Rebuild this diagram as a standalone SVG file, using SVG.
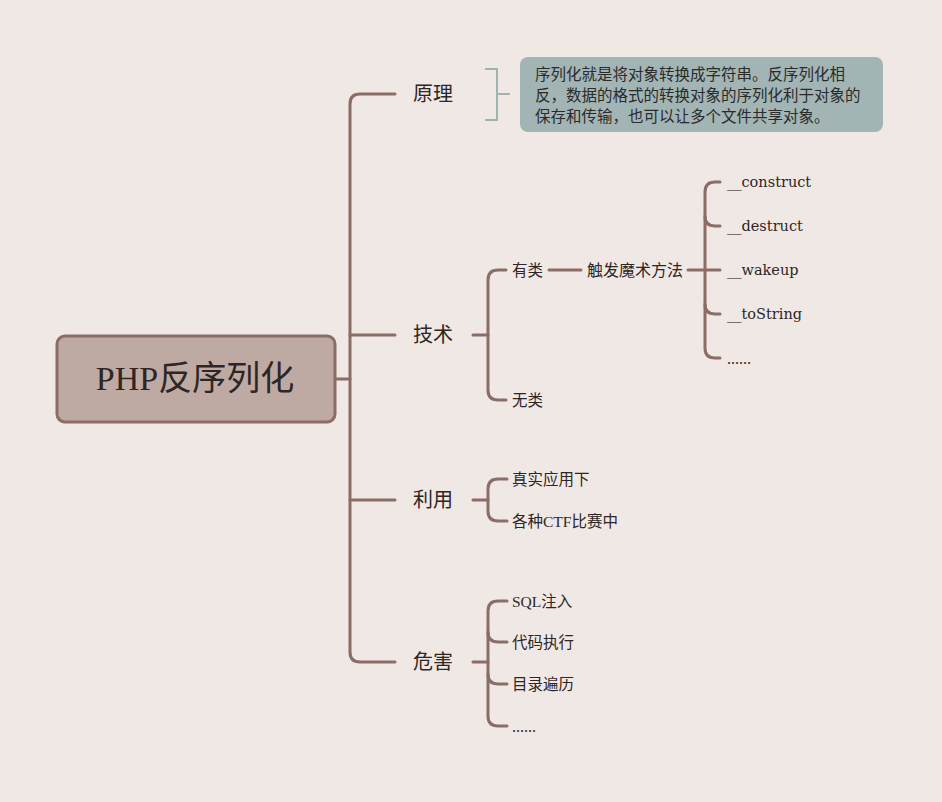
<svg xmlns="http://www.w3.org/2000/svg" width="942" height="802" viewBox="0 0 942 802">
<style>
.c{fill:none;stroke:#8b6c66;stroke-width:3;stroke-linecap:round}
.t{font-family:"Liberation Serif","Noto Sans CJK SC",serif;fill:#2e2624;dominant-baseline:central}
.l1{font-size:20px}
.l2{font-size:15.5px}
.l3{font-family:"DejaVu Serif","Liberation Serif",serif;font-size:14.5px}
.n{font-family:"Noto Sans CJK SC","Liberation Sans",sans-serif;font-size:15.5px;fill:#2b2b2b}
</style>
<rect width="942" height="802" fill="#f0e8e5"/>
<g id="connectors">
<path class="c" d="M335,379 H350"/>
<path class="c" d="M395,94 H360 Q350,94 350,104 V652 Q350,662 360,662 H395"/>
<path class="c" d="M350,335 H395"/>
<path class="c" d="M350,500 H395"/>
<path class="c" d="M473,335 H488"/>
<path class="c" d="M506,270 H498 Q488,270 488,280 V390 Q488,400 498,400 H506"/>
<path class="c" d="M549,270 H581"/>
<path class="c" d="M688,270 H720"/>
<path class="c" d="M720,182 H715 Q705,182 705,192 V348 Q705,358 715,358 H720"/>
<path class="c" d="M705,216 Q705,226 715,226 H720"/>
<path class="c" d="M705,304 Q705,314 715,314 H720"/>
<path class="c" d="M473,500 H488"/>
<path class="c" d="M507,479 H498 Q488,479 488,489 V511 Q488,521 498,521 H507"/>
<path class="c" d="M473,662 H488"/>
<path class="c" d="M507,601 H498 Q488,601 488,611 V716 Q488,726 498,726 H507"/>
<path class="c" d="M488,632 Q488,642 498,642 H507"/>
<path class="c" d="M488,674 Q488,684 498,684 H507"/>
<path d="M485,69 H497 V120 H485 M497,94 H510" fill="none" stroke="#9db4b1" stroke-width="2"/>
</g>
<g id="root">
<rect x="57" y="336" width="278" height="86" rx="8" fill="#bfaaa3" stroke="#8b6c66" stroke-width="3"/>
<text class="t" x="195" y="378" font-size="34" text-anchor="middle">PHP反序列化</text>
</g>
<g id="yuanli"><text class="t l1" x="413" y="94">原理</text></g>
<g id="note">
<rect x="520" y="57" width="363" height="75" rx="8" fill="#a2b4b4"/>
<text class="n" x="535" y="80">序列化就是将对象转换成字符串。反序列化相</text>
<text class="n" x="535" y="101">反，数据的格式的转换对象的序列化利于对象的</text>
<text class="n" x="535" y="122">保存和传输，也可以让多个文件共享对象。</text>
</g>
<g id="jishu"><text class="t l1" x="413" y="335">技术</text></g>
<g id="youlei"><text class="t l2" x="512" y="270">有类</text></g>
<g id="wulei"><text class="t l2" x="512" y="400">无类</text></g>
<g id="chufa"><text class="t" x="587" y="270" font-size="16">触发魔术方法</text></g>
<g id="construct"><text class="t l3" x="727" y="182">__construct</text></g>
<g id="destruct"><text class="t l3" x="727" y="226">__destruct</text></g>
<g id="wakeup"><text class="t l3" x="727" y="270">__wakeup</text></g>
<g id="tostring"><text class="t l3" x="727" y="314">__toString</text></g>
<g id="more1"><text class="t" x="727" y="358" font-size="16">......</text></g>
<g id="liyong"><text class="t l1" x="413" y="500">利用</text></g>
<g id="zhenshi"><text class="t l2" x="512" y="479">真实应用下</text></g>
<g id="ctf"><text class="t l2" x="512" y="521">各种CTF比赛中</text></g>
<g id="weihai"><text class="t l1" x="413" y="662">危害</text></g>
<g id="sql"><text class="t l2" x="512" y="601">SQL注入</text></g>
<g id="daima"><text class="t l2" x="512" y="642">代码执行</text></g>
<g id="mulu"><text class="t l2" x="512" y="684">目录遍历</text></g>
<g id="more2"><text class="t" x="512" y="726" font-size="16">......</text></g>
</svg>
